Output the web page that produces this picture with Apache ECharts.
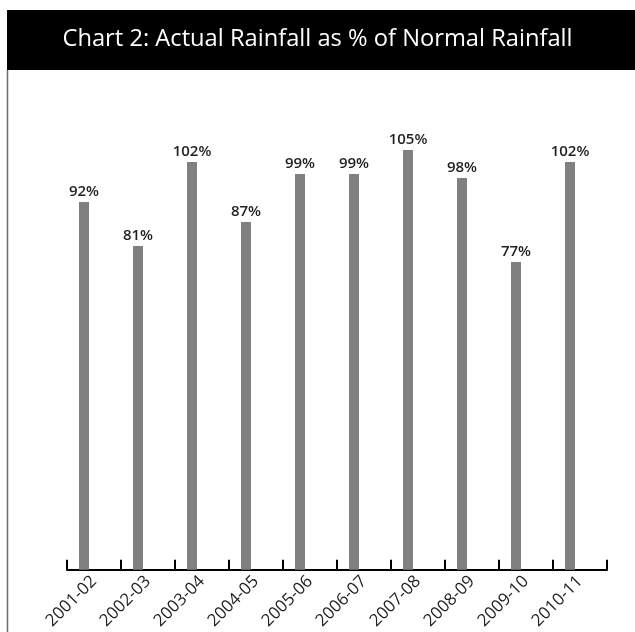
<!DOCTYPE html>
<html>
<head>
<meta charset="utf-8">
<title>Chart 2</title>
<script src="https://cdn.jsdelivr.net/npm/echarts@6/dist/echarts.min.js"></script>
<style>
  html, body { margin: 0; padding: 0; background: #fff; }
  #chart { width: 635px; height: 632px; }
</style>
</head>
<body>
<div id="chart"></div>
<script>
const titleText = 'Chart 2: Actual Rainfall as % of Normal Rainfall'
const years = ['2001-02', '2002-03', '2003-04', '2004-05', '2005-06',
  '2006-07', '2007-08', '2008-09', '2009-10', '2010-11']
const rainfallPct = [92, 81, 102, 87, 99, 99, 105, 98, 77, 102]

const chart = echarts.init(document.getElementById('chart'))

const option = {
  animation: false,
  graphic: [
    // black title band
    {
      type: 'rect',
      shape: { x: 7, y: 10, width: 628, height: 60 },
      style: { fill: '#000' }
    },
    // thin frame line on the left
    {
      type: 'line',
      shape: { x1: 7.5, y1: 70, x2: 7.5, y2: 632 },
      style: { stroke: '#6d6e71', lineWidth: 1.5 }
    },
    {
      type: 'text',
      left: 'center',
      top: 27,
      style: {
        text: titleText,
        fill: '#fff',
        font: '23.7px "Open Sans", sans-serif'
      }
    }
  ],
  grid: { left: 67, right: 28, top: 90, bottom: 62, containLabel: false },
  xAxis: {
    type: 'category',
    data: years,
    boundaryGap: true,
    axisLine: { lineStyle: { color: '#000', width: 2 } },
    axisTick: { show: true, inside: true, length: 10, lineStyle: { color: '#000', width: 2 } },
    axisLabel: {
      rotate: 45,
      color: '#231f20',
      fontSize: 17,
      fontFamily: 'Open Sans',
      margin: 9,
      interval: 0
    }
  },
  yAxis: {
    type: 'value',
    min: 0,
    max: 120,
    show: false,
    splitLine: { show: false }
  },
  series: [
    {
      type: 'bar',
      data: rainfallPct,
      barWidth: 10,
      barGap: '100%',
      itemStyle: { color: '#808083' },
      label: {
        show: true,
        position: 'top',
        distance: 3,
        formatter: '{c}%',
        color: '#231f20',
        fontSize: 15,
        fontWeight: 600,
        fontFamily: 'Open Sans'
      }
    },
    // empty companion series, only shifts the bars left of the category centre
    {
      type: 'bar',
      data: [],
      barWidth: 10,
      silent: true
    }
  ]
}

chart.setOption(option)
</script>
</body>
</html>
